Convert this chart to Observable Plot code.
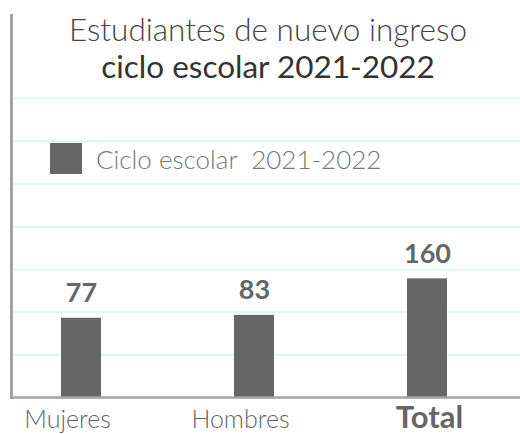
<!DOCTYPE html>
<html>
<head>
<meta charset="utf-8">
<script src="https://cdn.jsdelivr.net/npm/d3@7"></script>
<script src="https://cdn.jsdelivr.net/npm/@observablehq/plot@0.6"></script>
<style>
  html, body { margin: 0; padding: 0; background: #fff; }
  #wrap { position: relative; width: 520px; height: 434px; overflow: hidden; font-family: Lato, sans-serif; }
  #chart { position: absolute; left: 0; top: 0; }
  .t { position: absolute; line-height: 1; white-space: pre; }
  #title1 { left: 0; width: 536px; text-align: center; top: 14px; font-size: 31.5px; font-weight: 300; color: #444; }
  #title2 { left: 0; width: 536px; text-align: center; top: 51px; font-size: 31.5px; font-weight: 400; color: #333; }
  #legend { left: 50px; top: 143px; display: flex; align-items: flex-start; }
  #swatch { width: 32px; height: 31px; background: #666; }
  #legtext { position: absolute; left: 46px; top: 3px; font-size: 26px; font-weight: 300; color: #777; }
</style>
</head>
<body>
<div id="wrap">
  <div id="chart"></div>
  <div class="t" id="title1"></div>
  <div class="t" id="title2"></div>
  <div class="t" id="legend"><div id="swatch"></div><div class="t" id="legtext"></div></div>
</div>
<script>
const titleLine1 = "Estudiantes de nuevo ingreso";
const titleLine2 = "ciclo escolar 2021-2022";
const legendLabel = "Ciclo escolar  2021-2022";
const categories = ["Mujeres", "Hombres", "Total"];
const values = [77, 83, 160];
const gridTicks = [0, 90, 180, 270, 360, 450, 540];
const yDomain = [-90, 715];

document.getElementById("title1").textContent = titleLine1;
document.getElementById("title2").textContent = titleLine2;
document.getElementById("legtext").textContent = legendLabel;

const data = categories.map((c, i) => ({category: c, value: values[i]}));
const base = yDomain[0];

const chart = Plot.plot({
  width: 520,
  height: 434,
  marginTop: 15,
  marginBottom: 37,
  marginLeft: 11,
  marginRight: 0,
  x: {domain: categories, paddingInner: 0.77, paddingOuter: 0.352, align: 0.408, axis: null},
  y: {domain: yDomain, axis: null},
  style: {fontFamily: "Lato, sans-serif", background: "transparent", overflow: "visible"},
  marks: [
    Plot.ruleY(gridTicks, {stroke: "#d6f2ec", strokeWidth: 1.5, insetLeft: 3}),
    Plot.barY(data, {x: "category", y1: base, y2: "value", fill: "#666666"}),
    Plot.ruleY([base], {stroke: "#a3a3a3", strokeWidth: 2.5}),
    Plot.frame({anchor: "left", stroke: "#a3a3a3", strokeWidth: 3}),
    Plot.text(data, {x: "category", y: "value", text: d => String(d.value), lineAnchor: "bottom", dy: -16, fontSize: 27, fontWeight: "bold", fill: "#666"}),
    Plot.text(data.filter(d => d.category !== "Total"), {x: "category", y: base, text: "category", lineAnchor: "top", dy: 13, dx: -14, fontSize: 25, fontWeight: 300, fill: "#666"}),
    Plot.text(data.filter(d => d.category === "Total"), {x: "category", y: base, text: "category", lineAnchor: "top", dy: 8, dx: 2, fontSize: 31, fontWeight: "bold", fill: "#666"})
  ]
});
document.getElementById("chart").appendChild(chart);
</script>
</body>
</html>
